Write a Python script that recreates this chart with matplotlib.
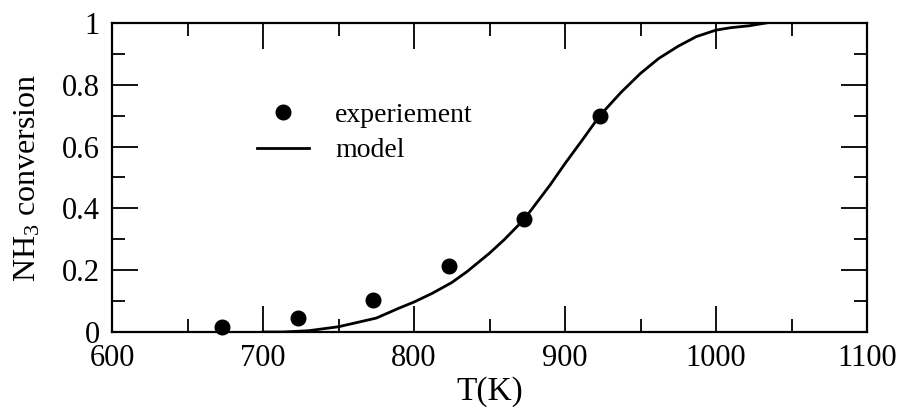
import matplotlib
matplotlib.use("Agg")
import matplotlib.pyplot as plt
from matplotlib.ticker import MultipleLocator, FuncFormatter

plt.rcParams["font.family"] = ["Liberation Serif", "DejaVu Serif"]
plt.rcParams["mathtext.fontset"] = "custom"
plt.rcParams["mathtext.rm"] = "Liberation Serif"
plt.rcParams["mathtext.it"] = "Liberation Serif:italic"

# experimental points
exp_T = [673, 723, 773, 823, 873, 923]
exp_conv = [0.015, 0.045, 0.105, 0.215, 0.365, 0.70]

# model curve
model_T = [700, 713, 730, 750, 775, 790, 800, 812, 825, 835, 850, 860, 873, 890, 900,
           912, 923, 937, 950, 962, 975, 987, 1000, 1010, 1022, 1033]
model_conv = [0.0, 0.0, 0.004, 0.017, 0.045, 0.077, 0.097, 0.125, 0.16, 0.195, 0.255, 0.30,
              0.365, 0.475, 0.545, 0.625, 0.70, 0.775, 0.837, 0.885, 0.925, 0.956, 0.977,
              0.985, 0.991, 1.0]

fig = plt.figure(figsize=(9.02, 4.07), dpi=100)
ax = fig.add_axes([0.1242, 0.1843, 0.837, 0.7592])

ax.plot(exp_T, exp_conv, "o", color="black", markersize=10.5, label="experiement",
        clip_on=False, zorder=3)
ax.plot(model_T, model_conv, "-", color="black", linewidth=2.0, label="model")

ax.set_xlim(600, 1100)
ax.set_ylim(0, 1)
ax.xaxis.set_major_locator(MultipleLocator(100))
ax.xaxis.set_minor_locator(MultipleLocator(50))
ax.yaxis.set_major_locator(MultipleLocator(0.2))
ax.yaxis.set_minor_locator(MultipleLocator(0.1))
ax.yaxis.set_major_formatter(FuncFormatter(lambda v, p: f"{v:g}"))

ax.tick_params(which="both", direction="in", top=True, right=True, width=1.3,
               labelsize=22, colors="black")
ax.tick_params(which="major", length=18.5, pad=9)
ax.tick_params(which="minor", length=9.4)
for s in ax.spines.values():
    s.set_linewidth(1.6)

ax.set_xlabel("T(K)", fontsize=24, labelpad=2)
ax.set_ylabel("NH$_3$ conversion", fontsize=23, labelpad=14)

ax.legend(loc="center left", bbox_to_anchor=(0.192, 0.645), frameon=False,
          fontsize=20, handlelength=1.87, handletextpad=0.94, labelspacing=0.37,
          borderpad=0, borderaxespad=0, numpoints=1)

fig.savefig("out.png", dpi=100)
